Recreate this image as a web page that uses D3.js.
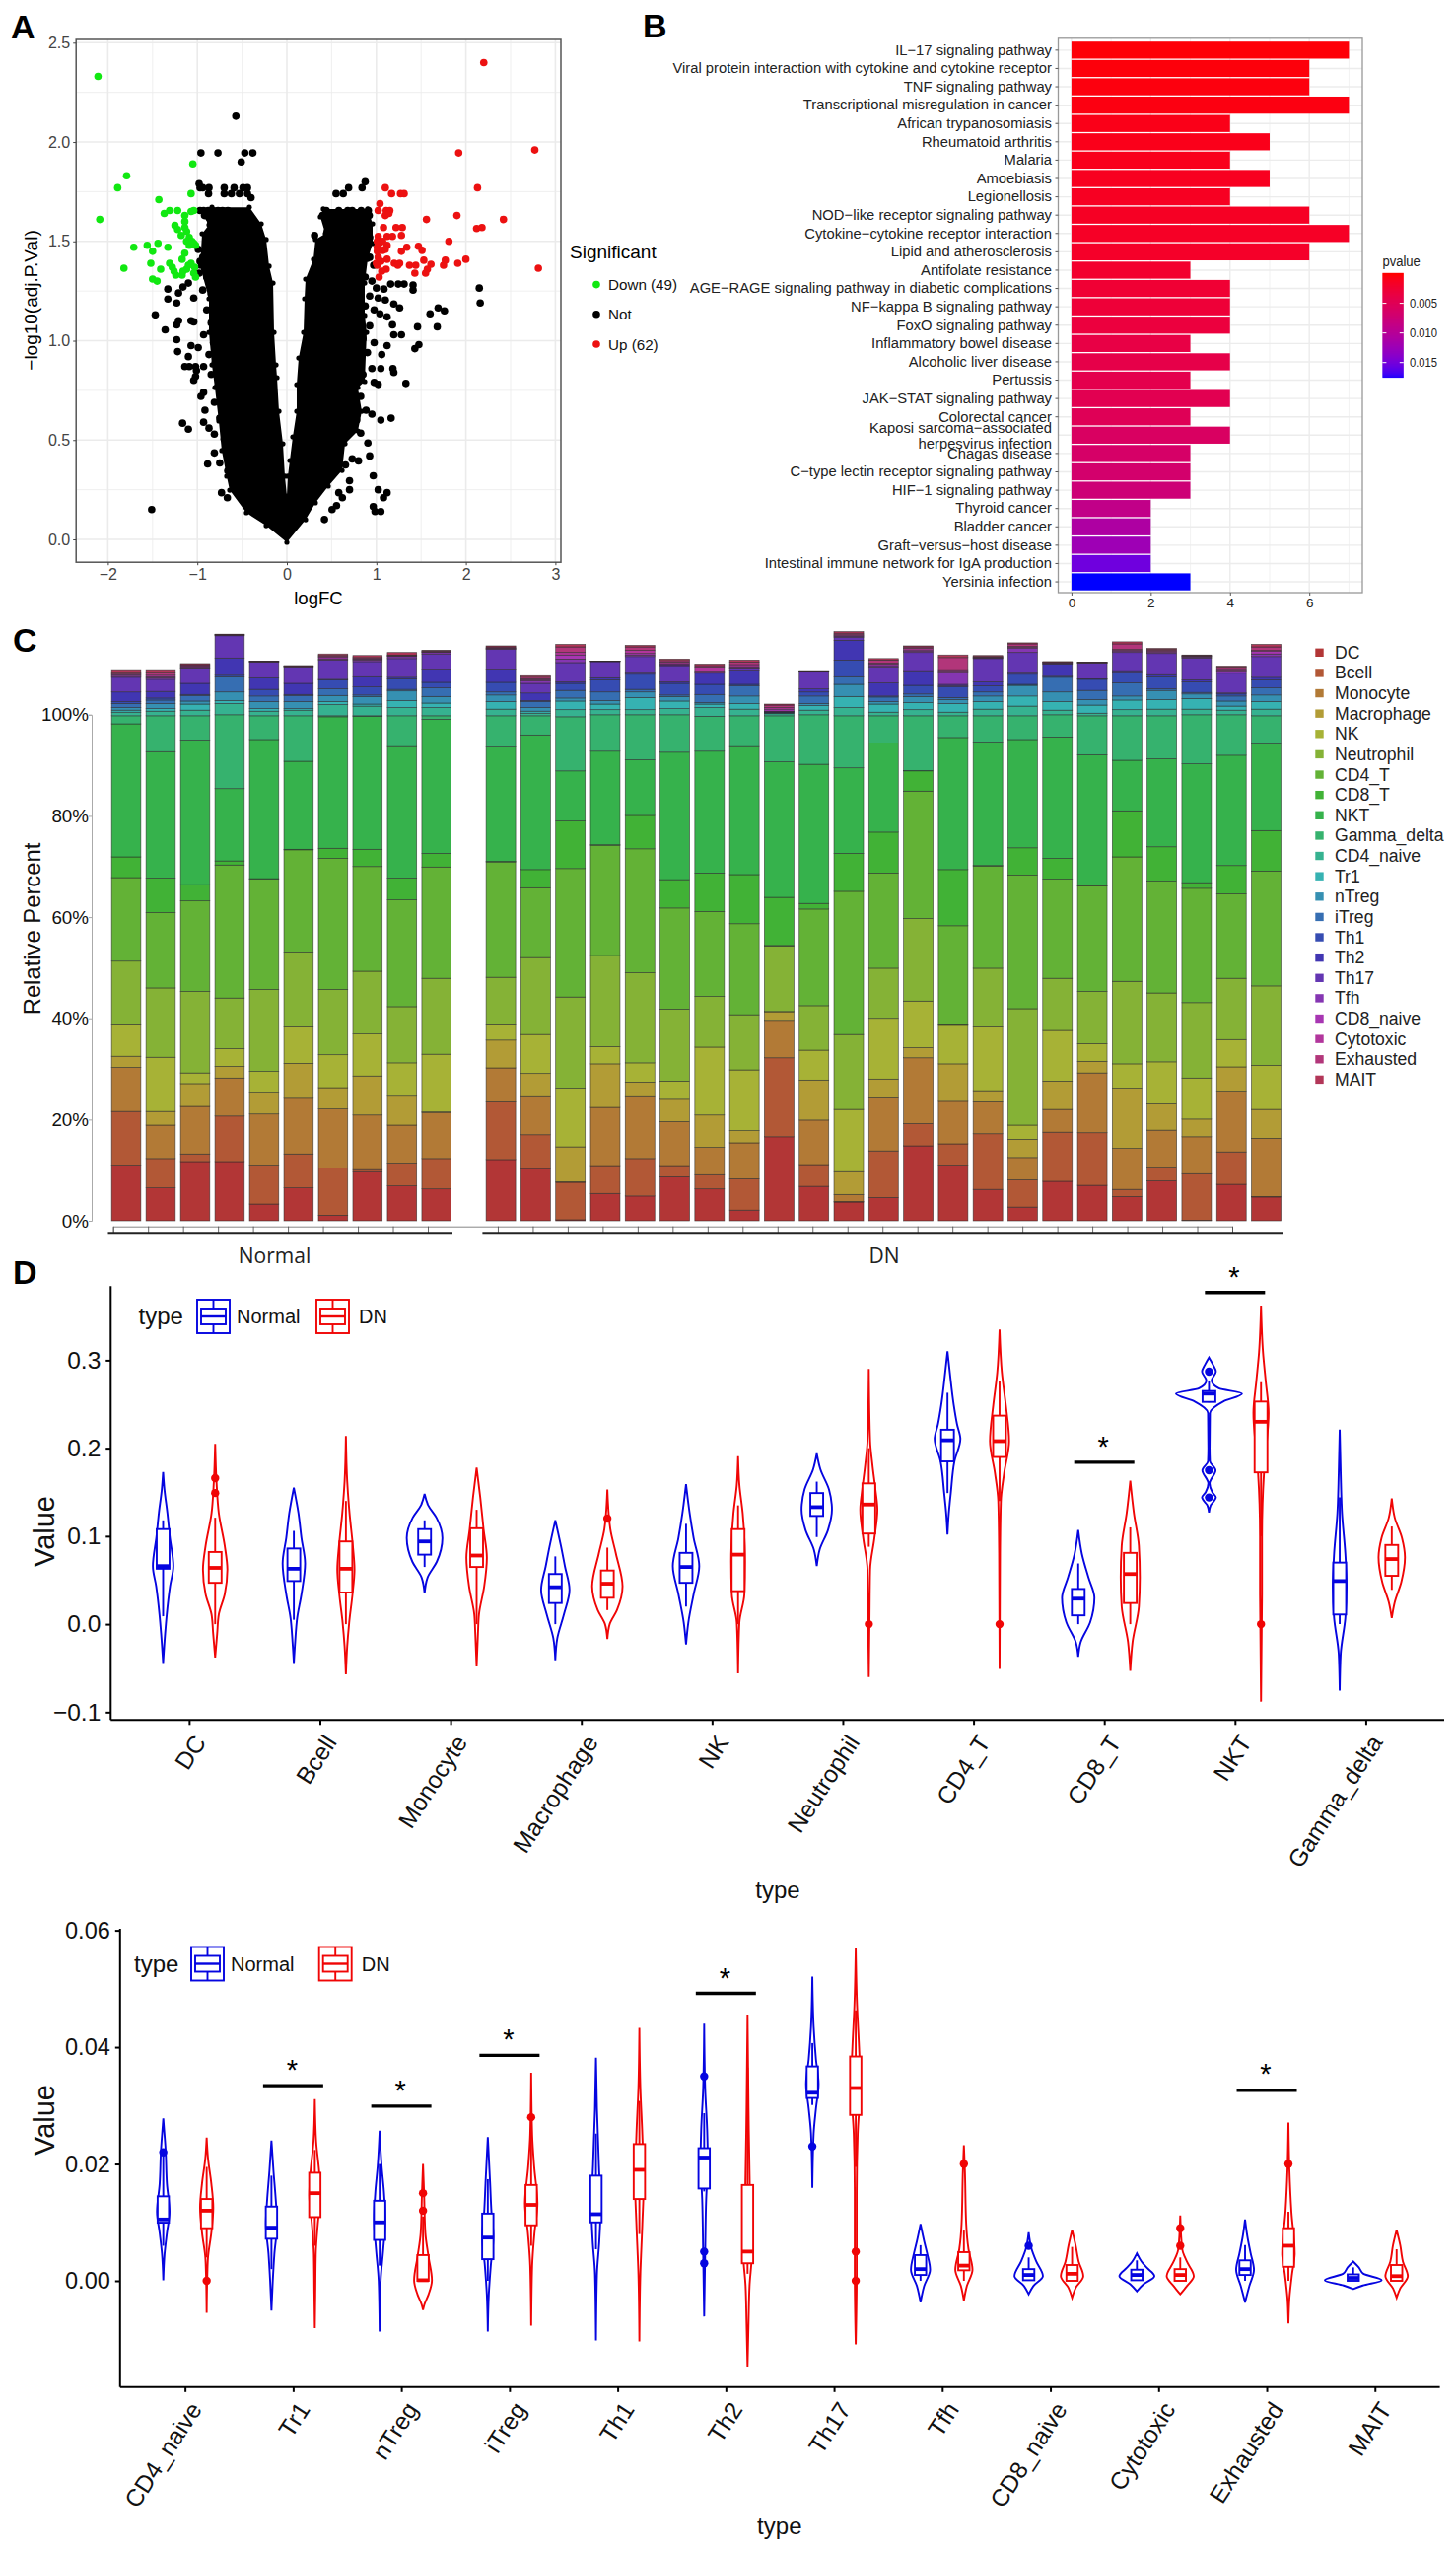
<!DOCTYPE html>
<html>
<head>
<meta charset="utf-8">
<script src="https://cdn.jsdelivr.net/npm/d3@7"></script>
<style>
  body { margin: 0; background: #fff; }
  text { font-family: "Liberation Sans", Arial, sans-serif; }
</style>
</head>
<body>
<div id="chart"></div>
<script>
// ---------- Panel A data (logFC, -log10 adj.P) ----------
const downGenes = [[-2.11,2.33],[-1.05,1.89],[-1.79,1.83],[-1.89,1.77],[-1.07,1.74],[-2.09,1.61],[-1.43,1.71],[-1.37,1.64],[-1.31,1.655],[-1.22,1.655],[-1.04,1.655],[-1.14,1.63],[-1.14,1.6],[-1.22,1.56],[-1.14,1.57],[-1.18,1.53],[-1.09,1.52],[-1.12,1.5],[-1.04,1.49],[-1.56,1.48],[-1.71,1.47],[-1.44,1.49],[-1.33,1.47],[-1.5,1.45],[-1.14,1.44],[-1.17,1.41],[-1.52,1.39],[-1.31,1.39],[-1.28,1.37],[-1.41,1.36],[-1.82,1.365],[-1.24,1.33],[-1.17,1.33],[-1.12,1.36],[-1.07,1.39],[-1.04,1.34],[-1.5,1.31],[-1.45,1.3],[-1.02,1.32],[-1.09,1.48],[-1.02,1.48],[-1.07,1.65],[-1.12,1.55],[-1.26,1.35],[-1.1,1.38],[-1.16,1.35],[-1.03,1.37],[-1.25,1.58],[-1.06,1.5]];
const upGenes = [[2.2,2.4],[2.77,1.96],[1.92,1.945],[2.13,1.77],[1.1,1.77],[1.17,1.74],[1.27,1.74],[1.31,1.74],[1.04,1.69],[1.02,1.655],[1.11,1.655],[1.15,1.655],[1.1,1.63],[1.56,1.61],[1.9,1.63],[2.42,1.61],[2.12,1.565],[2.18,1.57],[1.08,1.57],[1.22,1.57],[1.29,1.57],[1.81,1.5],[1.02,1.525],[1.12,1.525],[1.18,1.525],[1.28,1.53],[1.01,1.5],[1.03,1.49],[1.12,1.48],[1.34,1.47],[1.47,1.475],[1.51,1.455],[1.28,1.45],[1.07,1.455],[1.02,1.42],[1.12,1.41],[1.2,1.39],[1.26,1.39],[1.37,1.38],[1.44,1.38],[1.53,1.405],[1.61,1.385],[1.77,1.405],[2,1.41],[1.91,1.39],[2.81,1.365],[1.75,1.38],[1.57,1.36],[1.55,1.34],[1.43,1.34],[1.11,1.36],[1.06,1.35],[1.03,1.32],[1,1.39],[1.01,1.45],[1.1,1.46],[1.05,1.4],[1.01,1.47],[1.07,1.5],[1.14,1.64],[1.01,1.38],[1.24,1.38]];
const notGenes = [[-0.57,2.13],[-0.96,1.945],[-0.77,1.945],[-0.47,1.945],[-0.38,1.945],[-0.51,1.9],[-0.98,1.79],[-0.94,1.77],[-0.87,1.77],[-0.97,1.77],[-0.7,1.77],[-0.59,1.77],[-0.49,1.77],[-0.44,1.77],[-0.875,1.74],[-0.7,1.74],[-0.62,1.74],[-0.53,1.74],[-0.44,1.74],[-0.4,1.72],
[-0.97,1.655],[-0.93,1.655],[-0.88,1.655],[-0.83,1.655],[-0.77,1.655],[-0.72,1.655],[-0.66,1.655],[-0.92,1.63],[-0.85,1.63],[-0.78,1.63],[-0.7,1.63],[-0.85,1.6],[-0.75,1.6],[-0.68,1.6],[-0.82,1.56],
[0.875,1.8],[0.84,1.77],[0.69,1.77],[0.55,1.74],[0.63,1.74],[0.44,1.655],[0.58,1.655],[0.68,1.655],[0.73,1.655],[0.83,1.655],[0.91,1.655],[0.4,1.63],[0.47,1.63],[0.55,1.63],[0.76,1.63],[0.85,1.63],[0.92,1.63],[0.31,1.53],[0.4,1.5],[0.45,1.55],
[-1.51,0.15],[-1.33,1.26],[-1.33,1.21],[-1.23,1.19],[-1.21,1.24],[-1.47,1.13],[-1.36,1.055],[-1.21,1.1],[-1.23,1.08],[-1.23,1.005],[-1.22,0.945],[-1.1,0.92],[-1.14,0.87],[-1.09,0.87],[-1.02,0.87],[-1.07,0.975],[-0.99,0.965],[-1.165,0.585],[-1.1,0.555],[-1.04,1.095],[-1.07,1.1],[-1.04,1.215],[-1.16,1.27],[-1.1,1.29],[-1.01,0.85],[-1.04,0.8],[-1.02,0.82],[-0.93,0.87],[-0.96,0.72],[-0.93,0.74],[-0.915,0.65],[-0.93,0.59],[-0.87,0.56],[-0.81,0.53],[-0.81,0.435],[-0.885,0.38],[-0.75,0.385],[-0.73,0.235],[-0.665,0.21],[-0.66,0.345],[-0.6,0.28],
[-0.99,1.46],[-0.97,1.4],[-0.98,1.34],[-0.94,1.255],[-0.895,1.32],[-0.845,1.235],[-0.895,1.155],[-0.845,1.09],[-0.93,1.03],[-0.82,0.99],[-0.87,0.93],[-0.8,0.89],[-0.845,0.83],[-0.77,0.77],[-0.81,0.69],[-0.75,0.61],[-0.7,0.505],[-0.64,0.405],[-0.895,1.48],[-0.845,1.52],[-0.77,1.56],[-0.94,1.42],[-0.75,1.34],
[2.15,1.265],[2.16,1.19],[1.69,1.165],[1.76,1.15],[1.6,1.135],[1.68,1.07],[1.46,1.07],[1.475,0.98],[1.43,0.96],[1.33,0.785],[1.41,1.28],[1.41,1.255],[1.16,1.285],[1.245,1.285],[1.31,1.285],[1.085,1.26],[1,1.265],[1.195,1.185],[1.26,1.165],[1.1,1.205],[1.02,1.215],[1.04,1.135],[1.12,1.12],[1.18,1.08],[1.195,1.03],[1.28,1.03],[1.12,0.975],[1.06,0.93],[1.05,0.86],[1.185,0.86],[1.195,0.84],[1.165,0.61],[1.05,0.6],[0.95,0.63],[0.885,0.65],[0.905,0.485],[0.925,0.42],[0.965,0.32],[1.02,0.25],[1.12,0.235],[1.08,0.21],[0.965,0.165],[0.985,0.14],[1.05,0.14],[0.8,0.395],[0.73,0.405],[0.655,0.375],[0.7,0.25],[0.58,0.235],[0.62,0.21],[0.505,0.15],[0.555,0.17],[0.42,0.1],[0.7,0.295],[0.825,0.535],[0.73,0.565],[0.78,0.6],
[0.97,1.38],[0.875,1.46],[0.8,1.5],[0.925,1.52],[0.925,1.42],[0.95,1.3],[0.875,1.32],[0.825,1.255],[0.925,1.225],[0.875,1.175],[0.975,1.155],[0.8,1.115],[0.925,1.075],[0.85,1.01],[0.975,0.99],[0.75,0.97],[0.9,0.94],[0.8,0.89],[0.95,0.86],[0.85,0.83],[0.75,0.8],[0.975,0.79],[1.02,0.78],[0.825,0.72],[0.73,0.75],[0.7,0.69],[0.78,0.65],[0.655,0.63]];
// outline of the solid black mass of non significant genes
const notCloud = [[0,-0.015],[-0.231,0.069],[-0.452,0.134],[-0.639,0.248],[-0.672,0.318],[-0.727,0.447],[-0.76,0.596],[-0.804,0.764],[-0.837,0.878],[-0.87,1.042],[-0.87,1.211],[-0.969,1.375],[-0.947,1.538],[-0.87,1.583],[-0.969,1.653],[-0.837,1.672],[-0.419,1.672],[-0.286,1.588],[-0.231,1.509],[-0.198,1.375],[-0.154,1.29],[-0.143,1.042],[-0.121,0.878],[-0.11,0.814],[-0.088,0.645],[-0.044,0.481],[-0.022,0.318],[0,0.218],[0.011,0.318],[0.033,0.397],[0.066,0.516],[0.11,0.645],[0.11,0.779],[0.132,0.913],[0.187,1.042],[0.198,1.211],[0.209,1.31],[0.297,1.409],[0.319,1.509],[0.43,1.538],[0.374,1.623],[0.407,1.663],[0.903,1.663],[0.958,1.588],[0.958,1.489],[0.903,1.409],[0.87,1.29],[0.87,1.127],[0.892,1.042],[0.87,0.794],[0.793,0.764],[0.837,0.645],[0.793,0.546],[0.65,0.481],[0.617,0.347],[0.463,0.268],[0.319,0.184],[0.209,0.099]];
const volcanoLegend = ["Down (49)", "Not", "Up (62)"];

// ---------- Panel B data ----------
const pathways = ["IL\u221217 signaling pathway","Viral protein interaction with cytokine and cytokine receptor","TNF signaling pathway","Transcriptional misregulation in cancer","African trypanosomiasis","Rheumatoid arthritis","Malaria","Amoebiasis","Legionellosis","NOD\u2212like receptor signaling pathway","Cytokine\u2212cytokine receptor interaction","Lipid and atherosclerosis","Antifolate resistance","AGE\u2212RAGE signaling pathway in diabetic complications","NF\u2212kappa B signaling pathway","FoxO signaling pathway","Inflammatory bowel disease","Alcoholic liver disease","Pertussis","JAK\u2212STAT signaling pathway","Colorectal cancer","Kaposi sarcoma\u2212associated\nherpesvirus infection","Chagas disease","C\u2212type lectin receptor signaling pathway","HIF\u22121 signaling pathway","Thyroid cancer","Bladder cancer","Graft\u2212versus\u2212host disease","Intestinal immune network for IgA production","Yersinia infection"];
const pathwayCounts = [7,6,6,7,4,5,4,5,4,6,7,6,3,4,4,4,3,4,3,4,3,4,3,3,3,2,2,2,2,3];
const pathwayP = [0.0002,0.0003,0.0004,0.0005,0.0008,0.0009,0.001,0.0012,0.0013,0.0014,0.0015,0.0017,0.002,0.0024,0.0027,0.0031,0.0036,0.0039,0.0042,0.0045,0.0049,0.0058,0.0062,0.0066,0.0074,0.0088,0.0108,0.0122,0.0152,0.0176];

// ---------- Panel C data: cumulative top of each cell type, per sample (%) ----------
const cellTypes = ["DC","Bcell","Monocyte","Macrophage","NK","Neutrophil","CD4_T","CD8_T","NKT","Gamma_delta","CD4_naive","Tr1","nTreg","iTreg","Th1","Th2","Th17","Tfh","CD8_naive","Cytotoxic","Exhausted","MAIT"];
const stackNormal = [
[11,21.6,30.3,32.5,38.9,51.3,67.8,71.9,98.2,99.8,100.5,100.9,101.4,102.2,102.6,104.5,107.4,107.6,107.9,108,108.4,108.9],
[6.5,12.3,18.9,21.6,32.3,46,60.9,67.7,92.7,99.8,100.7,101.2,102.2,102.9,103.3,104.6,107,107.3,107.5,107.8,108.4,108.9],
[11.7,13.2,22.6,27.1,29.2,45.3,63.2,66.4,95,99.8,100.9,102.1,102.7,103.8,104,106.2,109.2,109.3,109.5,109.7,109.9,110.1],
[11.7,20.7,28.2,30.5,34,44,70.3,71.1,85.4,100,102.2,102.8,104.5,107.5,107.8,111.2,115.6,115.7,115.75,115.8,115.85,115.9],
[3.3,11,21.1,25.4,29.5,45.7,67.5,67.6,95.1,99.8,100.7,101.2,102.6,103.7,105,107.3,110.4,110.45,110.5,110.52,110.55,110.6],
[6.5,13.2,24.2,31.1,38.5,53.1,73.3,73.4,90.8,99.8,100.9,101.2,102.6,103.8,104,106.2,109.4,109.5,109.55,109.6,109.65,109.7],
[1.1,10.4,22.1,26.3,32.8,45.7,71.6,73.6,99.6,99.8,102,102.6,103.8,105.1,106.9,107,110.8,111,111.3,111.5,111.7,112],
[9.7,10.1,20.9,28.6,36.9,49.3,70,73.4,99.7,99.8,101.7,102.1,103.6,103.9,105.5,107.5,110.5,110.8,111,111.1,111.3,111.7],
[6.9,11.4,18.9,24.8,31.2,42.3,63.4,67.7,93.7,99.8,101.4,102.8,104.7,105,107.1,107.4,111.1,111.5,111.6,111.7,111.8,112.3],
[6.3,12.3,21.4,21.5,32.9,47.9,69.9,72.6,99.1,99.8,101.4,102.3,103.6,105.3,106.4,109,112,112.3,112.4,112.5,112.6,112.7]];
const stackDN = [
[12.1,23.5,30.2,35.7,38.9,48.1,70.9,71,93.6,99.8,101.1,102.6,103.9,104.5,106.4,109,112.9,113,113.1,113.2,113.4,113.6],
[10.3,17,24.7,29.1,36.8,52,65.8,69.4,96,99.8,100.3,100.7,101.4,102.6,102.8,104.3,106.2,106.7,106.9,107.1,107.4,107.7],
[0.2,7.6,7.7,14.6,26.2,44.2,69.6,79,88.9,99.6,101,102.7,103.3,104.8,106.2,106.5,110.3,111,111.8,112.3,113.4,113.9],
[5.4,10.9,22.4,31,34.4,52.4,74.2,74.3,92.8,100,101,102.1,102.8,104.5,106.9,107.3,110.5,110.52,110.54,110.56,110.58,110.6],
[4.9,12.3,24.7,27.4,31.2,49,73.5,80.1,91.1,100,101,103.4,104.5,105,108,108.4,111.5,111.8,112.1,112.7,113.4,113.7],
[8.7,10.9,19.6,24,27.6,41.8,61.8,67.4,92.6,100,101.2,102.7,103.6,103.9,106.2,106.5,109.7,109.9,110.1,110.4,110.7,111],
[6.3,9.1,14.5,20.9,34.3,44.3,61.1,68.7,92.8,99.7,101.4,102.1,102.4,104,106,108.2,108.3,108.4,108.6,109.4,109.7,110],
[2.1,8.3,15.4,17.8,29.8,40.7,58.7,68.4,93.7,99.8,101.1,102.2,103.7,105.7,106,108.8,109.2,109.3,109.5,109.9,110.4,110.8],
[16.6,32.2,39.6,41.3,41.35,54.3,54.4,63.9,90.7,99.8,100.2,100.3,100.4,100.5,100.55,100.6,100.65,100.7,101.1,101.4,101.9,102.1],
[6.8,11.1,19.9,27.8,33.7,42.5,61.6,62.7,90.2,100,100.9,101.8,102.2,103.7,104.5,105.1,108.6,108.62,108.64,108.66,108.68,108.7],
[3.7,3.8,5.2,9.7,22,36.8,65.1,72.6,89.5,99.8,101.4,103.6,106,107.5,110.8,114.7,115.3,115.5,115.6,115.8,116.1,116.4],
[4.6,13.8,24.3,28,40,49.9,68.7,76.8,94.4,99.8,100.5,102.1,102.6,103.5,103.7,106.3,109.4,109.7,110,110.2,110.8,111.1],
[14.8,19.2,32.2,34.2,43.4,59.7,84.9,88.9,88.95,99.8,101,102.4,103.6,104.1,105.8,108.7,112.3,112.5,112.8,113.1,113.4,113.6],
[11,15.2,23.6,31,38.8,38.9,58.3,69.4,95.5,99.8,100.5,102.2,103,103.4,105.5,105.7,106,108.4,108.6,108.9,111.3,111.8],
[6.2,17.2,23.5,25.7,38.5,49.9,70.1,70.2,94.6,99.8,101.1,102.6,103.7,104.5,105.7,106.5,111.1,111.2,111.3,111.4,111.5,111.7],
[2.7,8.1,12.5,16.1,18.9,41.9,68.3,73.7,95.1,99.8,101.7,103.7,105.8,106,108,108.4,112.3,113.1,113.3,113.5,114,114.2],
[7.8,17.5,22,27.6,37.6,47.9,67.5,71.6,95.6,100,100.9,102.6,104.5,107.4,107.6,110,110.1,110.2,110.3,110.35,110.4,110.5],
[7,17.4,29.2,31.5,35,45.3,66.2,66.25,92.1,99.8,100.3,101.9,103,104.8,107,107.1,110.2,110.25,110.3,110.33,110.36,110.4],
[4.8,6.2,14.3,26.2,31,47.3,71.9,81,91,99.8,101,102.9,103.7,106.3,108.4,108.7,112.3,112.5,112.7,112.9,114,114.4],
[7.9,10.6,17.9,23.1,31.4,45,67.1,73.9,91.3,99.8,101.1,103,104.8,105.1,107.5,107.9,112.1,112.3,112.5,112.7,112.9,113.1],
[0.1,9.3,16.6,20.1,28.2,43.1,65.7,66.8,90.3,100,101.1,103.2,104.1,104.4,106.5,106.9,111.2,111.4,111.5,111.6,111.7,111.8],
[7.2,13.6,25.6,30.4,35.8,47.9,64.6,70.2,92,100,100.9,101.7,102.7,103.7,104.1,104.3,108.2,108.6,108.8,109.1,109.4,109.6],
[4.7,4.8,16.3,22,30.7,46.4,69.1,77.1,94.2,99.8,101.1,102.6,103.9,105.3,106.9,107.4,111.5,112,112.5,112.7,113.4,113.9]];

// ---------- Panel D data: box stats, outliers and violin density profile [value, density] ----------
const majorTypes = cellTypes.slice(0, 10);
const majorNormal = [
{q1:.063,med:.066,q3:.108,lo:.009,hi:.118,out:[],shape:[[.173,0],[.153,.04],[.126,.13],[.1,.2],[.066,.31],[.043,.21],[.011,.11],[-.011,.06],[-.044,0]]},
{q1:.049,med:.063,q3:.086,lo:.005,hi:.106,out:[],shape:[[.155,0],[.126,.14],[.098,.23],[.069,.34],[.034,.23],[.007,.1],[-.02,.04],[-.044,0]]},
{q1:.079,med:.094,q3:.108,lo:.065,hi:.118,out:[],shape:[[.148,0],[.135,.11],[.121,.36],[.098,.54],[.071,.37],[.053,.09],[.035,0]]},
{q1:.024,med:.042,q3:.057,lo:0,hi:.077,out:[],shape:[[.118,0],[.089,.17],[.066,.29],[.039,.43],[.011,.26],[-.016,.06],[-.041,0]]},
{q1:.047,med:.065,q3:.081,lo:.02,hi:.114,out:[],shape:[[.159,0],[.126,.11],[.098,.23],[.066,.4],[.034,.23],[.002,.07],[-.023,0]]},
{q1:.123,med:.133,q3:.149,lo:.099,hi:.162,out:[],shape:[[.194,0],[.176,.11],[.153,.37],[.13,.46],[.107,.34],[.085,.09],[.066,0]]},
{q1:.185,med:.209,q3:.221,lo:.149,hi:.263,out:[],shape:[[.31,0],[.286,.07],[.249,.19],[.227,.29],[.2105,.39],[.185,.21],[.149,.1],[.126,.04],[.102,0]]},
{q1:.01,med:.029,q3:.04,lo:0,hi:.069,out:[],shape:[[.107,0],[.08,.11],[.053,.31],[.03,.49],[.002,.36],[-.021,.07],[-.037,0]]},
{q1:.2526,med:.262,q3:.265,lo:.252,hi:.277,out:[.287,.175,.144],shape:[[.303,0],[.295,.12],[.287,.21],[.277,.08],[.268,.3],[.262,1],[.253,.43],[.24,.03],[.2,.02],[.185,.03],[.175,.2],[.16,.02],[.15,.1],[.144,.21],[.135,.05],[.127,0]]},
{q1:.011,med:.049,q3:.07,lo:0,hi:.144,out:[],shape:[[.221,0],[.172,.03],[.126,.07],[.08,.17],[.043,.21],[.007,.17],[-.034,.03],[-.0755,0]]}];
const majorDN = [
{q1:.047,med:.064,q3:.082,lo:0,hi:.121,out:[.166,.149],shape:[[.205,0],[.162,.04],[.126,.11],[.089,.29],[.062,.37],[.034,.29],[.011,.11],[-.011,.06],[-.038,0]]},
{q1:.036,med:.063,q3:.094,lo:0,hi:.14,out:[],shape:[[.214,0],[.162,.04],[.126,.11],[.089,.21],[.062,.26],[.034,.2],[.002,.1],[-.025,.04],[-.057,0]]},
{q1:.065,med:.078,q3:.109,lo:0,hi:.13,out:[],shape:[[.178,0],[.144,.11],[.108,.21],[.0755,.31],[.043,.23],[.011,.07],[-.011,.04],[-.048,0]]},
{q1:.03,med:.046,q3:.061,lo:.016,hi:.087,out:[.12],shape:[[.153,0],[.108,.09],[.08,.26],[.043,.46],[.016,.29],[0,.07],[-.017,0]]},
{q1:.0375,med:.079,q3:.108,lo:0,hi:.135,out:[],shape:[[.191,0],[.158,.04],[.126,.14],[.09,.2],[.071,.21],[.034,.19],[.002,.04],[-.056,0]]},
{q1:.103,med:.136,q3:.16,lo:.088,hi:.2,out:[0],shape:[[.29,0],[.208,.04],[.181,.11],[.153,.2],[.13,.26],[.098,.17],[.062,.04],[0,.02],[-.06,0]]},
{q1:.19,med:.208,q3:.237,lo:.14,hi:.277,out:[0],shape:[[.335,0],[.286,.07],[.249,.19],[.208,.29],[.172,.14],[.14,.04],[.08,.014],[-.051,0]]},
{q1:.024,med:.057,q3:.081,lo:0,hi:.11,out:[],shape:[[.163,0],[.126,.11],[.089,.26],[.053,.29],[.02,.26],[-.02,.07],[-.053,0]]},
{q1:.1725,med:.23,q3:.253,lo:.1,hi:.275,out:[0],shape:[[.362,0],[.309,.06],[.277,.14],[.24,.23],[.194,.14],[.172,.09],[.1,.03],[.034,.03],[-.088,0]]},
{q1:.055,med:.074,q3:.09,lo:.039,hi:.111,out:[],shape:[[.143,0],[.121,.09],[.098,.31],[.076,.4],[.048,.29],[.025,.09],[.007,0]]}];
const majorSig = [{cat:"CD8_T",bar:.184,star:.209},{cat:"NKT",bar:.377,star:.4015}];

const minorTypes = cellTypes.slice(10);
const minorNormal = [
{q1:.00995,med:.0105,q3:.01446,lo:.006,hi:.022,out:[.022],shape:[[.0278,0],[.0267,.014],[.0224,.07],[.0166,.11],[.0118,.19],[.0082,.11],[.0047,.04],[.0001,0]]},
{q1:.0072,med:.0091,q3:.0127,lo:.002,hi:.018,out:[],shape:[[.024,0],[.0189,.06],[.0139,.13],[.0097,.17],[.0047,.09],[0,.04],[-.0051,0]]},
{q1:.007,med:.01,q3:.0137,lo:.0026,hi:.02,out:[],shape:[[.0257,0],[.0196,.06],[.0153,.13],[.0104,.17],[.0054,.11],[0,.03],[-.0087,0]]},
{q1:.0037,med:.0074,q3:.0115,lo:0,hi:.0174,out:[],shape:[[.0246,0],[.0167,.07],[.0118,.11],[.0076,.17],[.0026,.09],[-.0023,.03],[-.0087,0]]},
{q1:.01,med:.0114,q3:.018,lo:.0054,hi:.0252,out:[],shape:[[.0382,0],[.0294,.03],[.0196,.09],[.0125,.14],[.0068,.1],[.0012,.03],[-.0102,0]]},
{q1:.0158,med:.0211,q3:.0227,lo:.0153,hi:.0287,out:[.035,.005,.003],shape:[[.044,0],[.0329,.03],[.0259,.09],[.0203,.11],[.0139,.06],[.0047,.03],[-.0061,0]]},
{q1:.0313,med:.0322,q3:.0367,lo:.0301,hi:.0407,out:[.023],shape:[[.0521,0],[.0435,.04],[.0379,.11],[.0337,.19],[.0295,.11],[.0252,.04],[.0159,0]]},
{q1:.001,med:.002,q3:.0044,lo:0,hi:.0061,out:[],shape:[[.0097,0],[.0068,.11],[.0047,.2],[.0019,.29],[-.0009,.11],[-.0037,0]]},
{q1:.0001,med:.001,q3:.002,lo:0,hi:.004,out:[.006],shape:[[.0083,0],[.0054,.09],[.0033,.23],[.0008,.43],[-.0009,.14],[-.0023,0]]},
{q1:.0001,med:.001,q3:.0019,lo:0,hi:.0035,out:[],shape:[[.0047,0],[.0033,.14],[.0022,.31],[.0008,.53],[-.0006,.2],[-.0018,0]]},
{q1:.001,med:.002,q3:.0035,lo:0,hi:.0061,out:[],shape:[[.0105,0],[.0076,.07],[.0047,.17],[.0019,.27],[-.0009,.13],[-.0037,0]]},
{q1:0,med:.0005,q3:.0011,lo:0,hi:.0023,out:[],shape:[[.0033,0],[.0023,.17],[.0012,.31],[.0001,.86],[-.0008,.29],[-.0014,0]]}];
const minorDN = [
{q1:.009,med:.012,q3:.014,lo:.004,hi:.0195,out:[0],shape:[[.0245,0],[.021,.04],[.0167,.14],[.0125,.2],[.0082,.14],[.004,.04],[.0012,.02],[-.0055,0]]},
{q1:.0109,med:.015,q3:.0185,lo:.006,hi:.0224,out:[],shape:[[.0311,0],[.0238,.04],[.0188,.13],[.0146,.17],[.0097,.09],[.0047,.03],[-.0023,.014],[-.0081,0]]},
{q1:0,med:.0001,q3:.0044,lo:0,hi:.011,out:[.015,.012],shape:[[.02,0],[.0153,.03],[.0082,.07],[.004,.17],[.0001,.27],[-.0023,.17],[-.0041,.04],[-.005,0]]},
{q1:.0095,med:.013,q3:.0164,lo:.006,hi:.0252,out:[.028],shape:[[.0356,0],[.025,.03],[.0196,.09],[.0132,.19],[.0082,.1],[.0026,.03],[-.0077,0]]},
{q1:.014,med:.019,q3:.0234,lo:.008,hi:.0308,out:[],shape:[[.0433,0],[.033,.03],[.025,.09],[.0167,.13],[.0097,.09],[.0012,.03],[-.0104,0]]},
{q1:.003,med:.005,q3:.0164,lo:.0012,hi:.0365,out:[],shape:[[.0456,0],[.0294,.03],[.0153,.07],[.0047,.13],[-.0009,.06],[-.0072,.03],[-.0147,0]]},
{q1:.0284,med:.033,q3:.0384,lo:.0195,hi:.0463,out:[.005,0],shape:[[.0569,0],[.0471,.04],[.0401,.1],[.0337,.14],[.0252,.06],[.0153,.03],[.0012,.03],[-.0109,0]]},
{q1:.0018,med:.0026,q3:.0049,lo:0,hi:.0086,out:[.02],shape:[[.0232,0],[.0189,.03],[.0097,.07],[.0054,.14],[.0019,.26],[-.0009,.09],[-.0034,0]]},
{q1:0,med:.0012,q3:.0027,lo:0,hi:.0058,out:[],shape:[[.0087,0],[.006,.11],[.0033,.2],[.0008,.34],[-.0012,.11],[-.0029,0]]},
{q1:0,med:.001,q3:.002,lo:0,hi:.004,out:[.009,.006],shape:[[.0112,0],[.0054,.06],[.0033,.2],[.0008,.41],[-.0009,.2],[-.0023,0]]},
{q1:.0024,med:.006,q3:.009,lo:0,hi:.0118,out:[.02],shape:[[.0271,0],[.0189,.03],[.0118,.09],[.0047,.19],[.0012,.11],[-.003,.03],[-.0073,0]]},
{q1:0,med:.0008,q3:.0027,lo:0,hi:.0054,out:[],shape:[[.0087,0],[.0061,.11],[.0033,.19],[.0008,.34],[-.0013,.11],[-.0029,0]]}];
const minorSig = [{cat:"Tr1",bar:.0334,star:.0373},{cat:"nTreg",bar:.0299,star:.0336},{cat:"iTreg",bar:.0386,star:.0425},{cat:"Th2",bar:.0492,star:.053},{cat:"Exhausted",bar:.0326,star:.0365}];

const blue = "#0505e0", red = "#f00505";

const svg = d3.select("#chart").append("svg")
    .attr("width", 1477)
    .attr("height", 2585)
    .style("display", "block");

// panel letters
[["A",11,39],["B",652,38],["C",13,661],["D",13,1302]].forEach(d => {
    svg.append("text").attr("x", d[1]).attr("y", d[2])
        .attr("font-size", 34).attr("font-weight", "bold").text(d[0]);
});

// ---------- A: volcano ----------
function drawVolcano() {
    const x = d3.scaleLinear().domain([-2, 3]).range([109.4, 563.4]);
    const y = d3.scaleLinear().domain([0, 2.5]).range([547, 43.3]);
    const frame = { left: 77.2, right: 569, top: 40, bottom: 570.2 };
    const g = svg.append("g");

    // grid
    const minorX = d3.range(-2, 3, 0.5).filter(d => d % 1 !== 0);
    const minorY = d3.range(0.25, 2.5, 0.5);
    g.selectAll(".gx").data(d3.range(-2, 4).concat(minorX)).enter().append("line")
        .attr("x1", d => x(d)).attr("x2", d => x(d))
        .attr("y1", frame.top).attr("y2", frame.bottom)
        .attr("stroke", "#ebebeb").attr("stroke-width", d => d % 1 === 0 ? 1.6 : 0.8);
    g.selectAll(".gy").data(d3.range(0, 3, 0.5).concat(minorY)).enter().append("line")
        .attr("x1", frame.left).attr("x2", frame.right)
        .attr("y1", d => y(d)).attr("y2", d => y(d))
        .attr("stroke", "#ebebeb").attr("stroke-width", d => d % 0.5 === 0 ? 1.6 : 0.8);

    const line = d3.line().x(d => x(d[0])).y(d => y(d[1]));
    g.append("path").attr("d", line(notCloud) + "Z").attr("fill", "#000");

    const dots = (rows, color, r) => g.append("g").selectAll("circle").data(rows).enter().append("circle")
        .attr("cx", d => x(d[0])).attr("cy", d => y(d[1])).attr("r", r).attr("fill", color);
    dots(notCloud, "#000", 2.6);
    dots(notGenes, "#000", 3.8);
    dots(downGenes, "#11e811", 3.8);
    dots(upGenes, "#ec1111", 3.8);

    g.append("rect").attr("x", frame.left).attr("y", frame.top)
        .attr("width", frame.right - frame.left).attr("height", frame.bottom - frame.top)
        .attr("fill", "none").attr("stroke", "#555").attr("stroke-width", 1.5);

    const xAxis = g.append("g").attr("transform", "translate(0," + frame.bottom + ")")
        .call(d3.axisBottom(x).tickValues(d3.range(-2, 4)).tickFormat(d3.format("d")).tickSize(3).tickPadding(3));
    const yAxis = g.append("g").attr("transform", "translate(" + frame.left + ",0)")
        .call(d3.axisLeft(y).tickValues(d3.range(0, 3, 0.5)).tickFormat(d3.format(".1f")).tickSize(3).tickPadding(3));
    [xAxis, yAxis].forEach(a => {
        a.select(".domain").remove();
        a.selectAll("text").attr("font-size", 16).attr("fill", "#444");
        a.selectAll("line").attr("stroke", "#444");
    });

    g.append("text").attr("x", 323).attr("y", 613).attr("text-anchor", "middle")
        .attr("font-size", 18.6).text("logFC");
    g.append("text").attr("transform", "translate(38,304.5) rotate(-90)").attr("text-anchor", "middle")
        .attr("font-size", 19).text("\u2212log10(adj.P.Val)");

    g.append("text").attr("x", 578).attr("y", 262).attr("font-size", 19).text("Significant");
    const legendY = d3.scalePoint().domain(volcanoLegend).range([288.6, 349]);
    const legendColor = d3.scaleOrdinal().domain(volcanoLegend).range(["#11e811", "#000", "#ec1111"]);
    volcanoLegend.forEach(d => {
        g.append("circle").attr("cx", 605).attr("cy", legendY(d)).attr("r", 3.8).attr("fill", legendColor(d));
        g.append("text").attr("x", 617).attr("y", legendY(d) + 5.5).attr("font-size", 15.2).attr("fill", "#111").text(d);
    });
}

// ---------- B: enrichment bars ----------
function drawEnrichment() {
    const frame = { left: 1073.5, right: 1382, top: 38.8, bottom: 601 };
    const x = d3.scaleLinear().domain([0, 6]).range([1086.9, 1328.2]);
    const y = d3.scaleBand().domain(pathways).range([40.9, 600]).padding(0.07);
    const pColor = d3.scaleLinear().domain([0, 0.0176]).range(["#ff0000", "#0000ff"]).interpolate(d3.interpolateLab);
    const squeeze = 0.985;
    const g = svg.append("g");

    g.selectAll(".gx").data(d3.range(0, 8)).enter().append("line")
        .attr("x1", d => x(d)).attr("x2", d => x(d))
        .attr("y1", frame.top).attr("y2", frame.bottom)
        .attr("stroke", "#ececec").attr("stroke-width", d => d % 2 === 0 ? 1.4 : 0.7);
    g.selectAll(".gy").data(pathways).enter().append("line")
        .attr("x1", frame.left).attr("x2", frame.right)
        .attr("y1", d => y(d) + y.bandwidth() / 2).attr("y2", d => y(d) + y.bandwidth() / 2)
        .attr("stroke", "#ececec").attr("stroke-width", 1.4);

    g.selectAll(".bar").data(pathways).enter().append("rect")
        .attr("x", x(0))
        .attr("y", d => y(d))
        .attr("width", (d, i) => x(pathwayCounts[i]) - x(0))
        .attr("height", y.bandwidth())
        .attr("fill", (d, i) => pColor(pathwayP[i]));

    g.append("rect").attr("x", frame.left).attr("y", frame.top)
        .attr("width", frame.right - frame.left).attr("height", frame.bottom - frame.top)
        .attr("fill", "none").attr("stroke", "#999").attr("stroke-width", 1.3);

    const yAxis = g.append("g").attr("transform", "translate(" + frame.left + ",0)")
        .call(d3.axisLeft(y).tickSize(3).tickPadding(3));
    yAxis.select(".domain").remove();
    yAxis.selectAll("line").attr("stroke", "#555");
    yAxis.selectAll("text").each(function(d) {
        const t = d3.select(this).attr("font-size", 15).attr("fill", "#222")
            .attr("x", -6.5 / squeeze).attr("transform", "scale(" + squeeze + ",1)");
        const parts = d.split("\n");
        if (parts.length > 1) {
            t.text(null).attr("dy", null);
            t.append("tspan").attr("x", -6.5 / squeeze).attr("y", -2.4).text(parts[0]);
            t.append("tspan").attr("x", -6.5 / squeeze).attr("y", 13.8).text(parts[1]);
        }
    });
    yAxis.selectAll("g.tick").filter(d => d.indexOf("\n") >= 0).select("line").remove();

    const xAxis = g.append("g").attr("transform", "translate(0," + frame.bottom + ")")
        .call(d3.axisBottom(x).tickValues([0, 2, 4, 6]).tickFormat(d3.format("d")).tickSize(3).tickPadding(2));
    xAxis.select(".domain").remove();
    xAxis.selectAll("text").attr("font-size", 13.5).attr("fill", "#222");
    xAxis.selectAll("line").attr("stroke", "#555");

    // colour bar
    const pScale = d3.scaleLinear().domain([0.005, 0.015]).range([307.6, 367.7]);
    const barTop = 276.8, barBottom = 382.8;
    g.append("text").attr("transform", "translate(1402.4,269.5) scale(0.9,1)").attr("font-size", 14.5).attr("fill", "#222").text("pvalue");
    d3.range(barTop, barBottom, 1).forEach(py => {
        g.append("rect").attr("x", 1402.4).attr("y", py).attr("width", 21.4).attr("height", 1.3)
            .attr("fill", pColor(Math.max(0, pScale.invert(py))));
    });
    [0.005, 0.01, 0.015].forEach(p => {
        g.append("line").attr("x1", 1402.4).attr("x2", 1406.4).attr("y1", pScale(p)).attr("y2", pScale(p)).attr("stroke", "#fff");
        g.append("line").attr("x1", 1419.8).attr("x2", 1423.8).attr("y1", pScale(p)).attr("y2", pScale(p)).attr("stroke", "#fff");
        g.append("text").attr("transform", "translate(1430," + (pScale(p) + 4.5) + ") scale(0.9,1)")
            .attr("font-size", 12.5).attr("fill", "#222").text(d3.format(".3f")(p));
    });
}

// ---------- C: stacked composition ----------
function drawComposition() {
    const y = d3.scaleLinear().domain([0, 100]).range([1238, 724.8]);
    const normalIds = stackNormal.map((d, i) => "N" + i);
    const dnIds = stackDN.map((d, i) => "D" + i);
    const xNormal = d3.scaleBand().domain(normalIds).range([107.9, 462.9]).padding(0.15);
    const xDN = d3.scaleBand().domain(dnIds).range([487.8, 1304.8]).padding(0.15);
    const color = d3.scaleOrdinal().domain(cellTypes)
        .range(cellTypes.map((d, i) => d3.hsl(i * 360 / cellTypes.length, 0.538, 0.455).formatHex()));
    const g = svg.append("g");

    const drawStacks = (rows, ids, x) => {
        rows.forEach((tops, s) => {
            tops.forEach((top, i) => {
                const base = i === 0 ? 0 : tops[i - 1];
                g.append("rect")
                    .attr("x", x(ids[s])).attr("width", x.bandwidth())
                    .attr("y", y(top)).attr("height", y(base) - y(top))
                    .attr("fill", color(cellTypes[i]))
                    .attr("stroke", "#2a2a2a").attr("stroke-width", 0.7).attr("stroke-opacity", 0.75);
            });
        });
    };
    drawStacks(stackNormal, normalIds, xNormal);
    drawStacks(stackDN, dnIds, xDN);

    const yAxis = g.append("g").attr("transform", "translate(93,0)")
        .call(d3.axisLeft(y).tickValues([0, 20, 40, 60, 80, 100]).tickFormat(d => d + "%").tickSize(3).tickPadding(0));
    yAxis.select(".domain").attr("stroke", "#aaa");
    yAxis.selectAll("line").attr("stroke", "#aaa");
    yAxis.selectAll("text").attr("font-size", 18.8).attr("fill", "#111");

    g.append("text").attr("transform", "translate(41,942) rotate(-90)").attr("text-anchor", "middle")
        .attr("font-size", 23.8).attr("fill", "#111").text("Relative Percent");

    // sample axis under the bars and the two group rules; the rule has no tick in the gap slot
    const ticks = d3.scalePoint().domain(normalIds.concat(dnIds)).range([114.7, 1250]);
    const tickAxis = g.append("g").attr("transform", "translate(0,1243.7)")
        .call(d3.axisBottom(ticks).tickSize(7).tickFormat(""));
    tickAxis.select(".domain").attr("stroke", "#666").attr("stroke-width", 0.8);
    tickAxis.selectAll("line").attr("stroke", "#444").attr("stroke-width", 0.8);
    tickAxis.selectAll("g.tick").filter(d => d === "D0").remove();
    [[109.5, 459], [489.4, 1301.6]].forEach(r => {
        g.append("line").attr("x1", r[0]).attr("x2", r[1]).attr("y1", 1250.3).attr("y2", 1250.3)
            .attr("stroke", "#222").attr("stroke-width", 2);
    });
    g.append("text").attr("x", 278.5).attr("y", 1281).attr("text-anchor", "middle").attr("font-size", 21)
        .style("font-family", "'Open Sans'").attr("fill", "#222").text("Normal");
    g.append("text").attr("x", 897).attr("y", 1281).attr("text-anchor", "middle").attr("font-size", 21)
        .style("font-family", "'Open Sans'").attr("fill", "#222").text("DN");

    // legend
    const legendY = d3.scalePoint().domain(cellTypes).range([661.8, 1094.9]);
    cellTypes.forEach(d => {
        g.append("rect").attr("x", 1334.3).attr("y", legendY(d) - 4.2).attr("width", 8.4).attr("height", 8.4).attr("fill", color(d));
        g.append("text").attr("x", 1354).attr("y", legendY(d) + 6).attr("font-size", 17.6).attr("fill", "#222").text(d);
    });
}

// ---------- D: violins ----------
function drawViolinPanel(opt) {
    const g = svg.append("g");
    const x = d3.scalePoint().domain(opt.cats).range([opt.left, opt.right]).padding(0.6);
    const y = d3.scaleLinear().domain(opt.yDomain).range(opt.yRange);
    const widthScale = d3.scaleLinear().domain([0, 1]).range([0, 33.5]);

    const drawOne = (row, cx, color) => {
        const area = d3.area()
            .y(d => y(d[0]))
            .x0(d => cx - widthScale(d[1]))
            .x1(d => cx + widthScale(d[1]))
            .curve(d3.curveMonotoneY);
        g.append("path").attr("d", area(row.shape)).attr("fill", "none")
            .attr("stroke", color).attr("stroke-width", 1.9);
        g.append("line").attr("x1", cx).attr("x2", cx).attr("y1", y(row.lo)).attr("y2", y(row.hi))
            .attr("stroke", color).attr("stroke-width", 1.9);
        g.append("rect").attr("x", cx - opt.boxWidth / 2).attr("width", opt.boxWidth)
            .attr("y", y(row.q3)).attr("height", y(row.q1) - y(row.q3))
            .attr("fill", "#fff").attr("stroke", color).attr("stroke-width", 1.9);
        g.append("line").attr("x1", cx - opt.boxWidth / 2).attr("x2", cx + opt.boxWidth / 2)
            .attr("y1", y(row.med)).attr("y2", y(row.med))
            .attr("stroke", color).attr("stroke-width", 3.8);
        row.out.forEach(v => {
            g.append("circle").attr("cx", cx).attr("cy", y(v)).attr("r", 4.2).attr("fill", color);
        });
    };
    opt.cats.forEach((c, i) => {
        drawOne(opt.normal[i], x(c) - opt.dodge, blue);
        drawOne(opt.dn[i], x(c) + opt.dodge, red);
    });

    // significance marks
    opt.sig.forEach(s => {
        g.append("line").attr("x1", x(s.cat) - opt.sigHalf).attr("x2", x(s.cat) + opt.sigHalf)
            .attr("y1", y(s.bar)).attr("y2", y(s.bar))
            .attr("stroke", "#000").attr("stroke-width", 3.4);
        g.append("text").attr("x", x(s.cat) - 1).attr("y", y(s.star) + 16.5)
            .attr("text-anchor", "middle").attr("font-size", 29).text("*");
    });

    const yAxis = g.append("g").attr("transform", "translate(" + opt.left + ",0)")
        .call(d3.axisLeft(y).tickValues(opt.yTicks).tickFormat(d3.format(opt.yFormat)).tickSize(5).tickPadding(5));
    yAxis.select(".domain").attr("d", "M0," + opt.axisTop + "V" + opt.axisBottom);
    yAxis.selectAll("text").attr("font-size", opt.yFont).attr("fill", "#111");

    const xAxis = g.append("g").attr("transform", "translate(0," + opt.axisBottom + ")")
        .call(d3.axisBottom(x).tickSize(5));
    xAxis.select(".domain").attr("d", "M" + opt.left + ",0H" + opt.right);
    xAxis.selectAll("text")
        .attr("font-size", 24.5).attr("fill", "#111")
        .attr("text-anchor", "end").attr("dy", null)
        .attr("x", 0).attr("y", 0)
        .attr("transform", "translate(12,19) rotate(-57)")
        .attr("dominant-baseline", "middle");
    g.selectAll(".domain, .tick line").attr("stroke", "#000").attr("stroke-width", 2);

    g.append("text").attr("transform", "translate(55," + opt.valueY + ") rotate(-90)").attr("text-anchor", "middle")
        .attr("font-size", 29).attr("fill", "#111").text("Value");
    g.append("text").attr("x", opt.typeX).attr("y", opt.typeY).attr("text-anchor", "middle")
        .attr("font-size", 24).attr("fill", "#111").text("type");

    // key
    g.append("text").attr("x", opt.key.typeX).attr("y", opt.key.y + 8).attr("font-size", 24).attr("fill", "#111").text("type");
    const drawKey = (kx, color, label, labelX) => {
        const ky = opt.key.y;
        g.append("rect").attr("x", kx).attr("y", ky - 17).attr("width", 33).attr("height", 34)
            .attr("fill", "#fff").attr("stroke", color).attr("stroke-width", 1.9);
        g.append("line").attr("x1", kx + 16.5).attr("x2", kx + 16.5).attr("y1", ky - 17).attr("y2", ky + 17)
            .attr("stroke", color).attr("stroke-width", 1.9);
        g.append("rect").attr("x", kx + 4).attr("y", ky - 8).attr("width", 25).attr("height", 16)
            .attr("fill", "#fff").attr("stroke", color).attr("stroke-width", 1.9);
        g.append("line").attr("x1", kx + 4).attr("x2", kx + 29).attr("y1", ky).attr("y2", ky)
            .attr("stroke", color).attr("stroke-width", 2.4);
        g.append("text").attr("x", labelX).attr("y", ky + 7).attr("font-size", 20).attr("fill", "#111").text(label);
    };
    drawKey(opt.key.normalX, blue, "Normal", opt.key.normalX + 40);
    drawKey(opt.key.dnX, red, "DN", opt.key.dnX + 43);
}

drawVolcano();
drawEnrichment();
drawComposition();
drawViolinPanel({
    cats: majorTypes, normal: majorNormal, dn: majorDN, sig: majorSig,
    left: 112.3, right: 1465, yDomain: [0, 0.3], yRange: [1647.1, 1379.4],
    axisTop: 1304.3, axisBottom: 1744.3, yTicks: [-0.1, 0, 0.1, 0.2, 0.3], yFormat: ".1f", yFont: 24.5,
    dodge: 26.4, boxWidth: 13, sigHalf: 30.5, valueY: 1553, typeX: 789, typeY: 1925,
    key: { typeX: 140.6, y: 1335, normalX: 200, dnX: 321 }
});
drawViolinPanel({
    cats: minorTypes, normal: minorNormal, dn: minorDN, sig: minorSig,
    left: 121.8, right: 1460.6, yDomain: [0, 0.06], yRange: [2313, 1957.6],
    axisTop: 1955.9, axisBottom: 2420.8, yTicks: [0, 0.02, 0.04, 0.06], yFormat: ".2f", yFont: 23.5,
    dodge: 22, boxWidth: 11.5, sigHalf: 30.5, valueY: 2150, typeX: 790.8, typeY: 2570,
    key: { typeX: 136, y: 1991.5, normalX: 194, dnX: 323.7 }
});
</script>
</body>
</html>
